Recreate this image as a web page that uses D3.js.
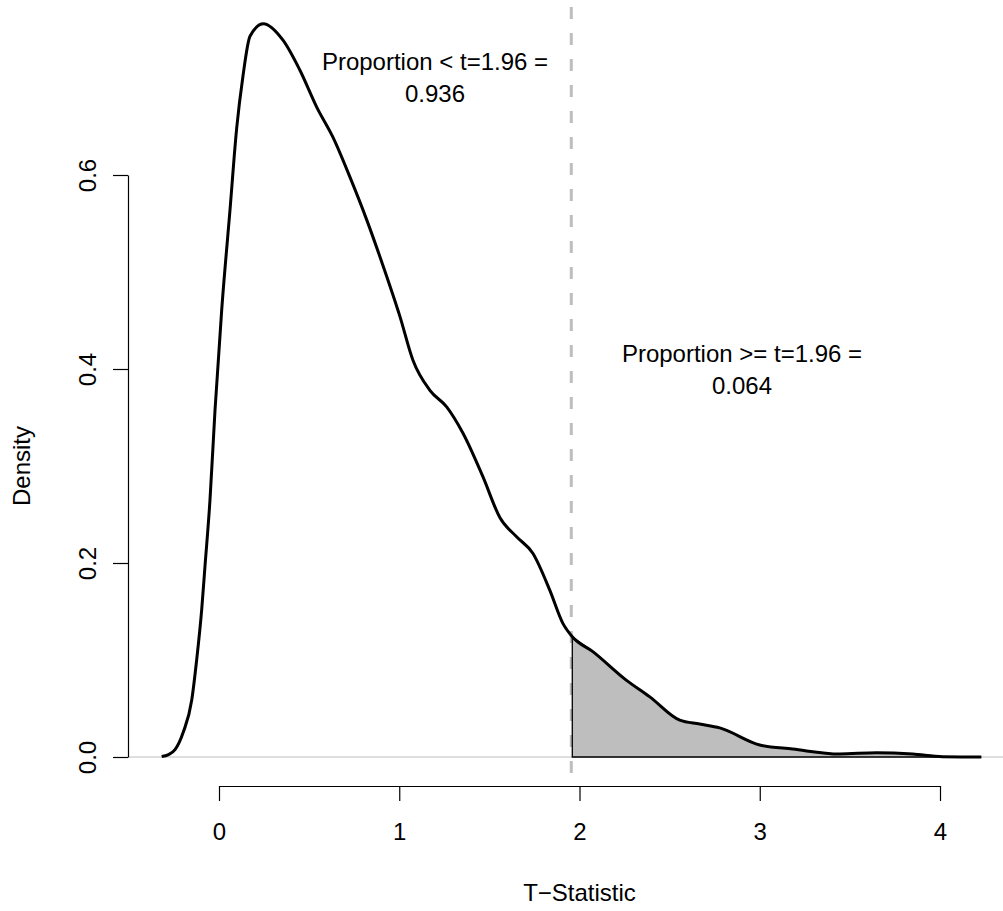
<!DOCTYPE html>
<html>
<head>
<meta charset="utf-8">
<script src="https://cdn.jsdelivr.net/npm/d3@7"></script>
<style>
  html, body { margin: 0; padding: 0; background: #ffffff; }
  svg { display: block; }
  text { font-family: "Liberation Sans", Arial, Helvetica, sans-serif; fill: #000; }
</style>
</head>
<body>
<svg id="chart" width="1003" height="911"></svg>
<script>
// ---- data ----
const tValues = [-0.318, -0.28, -0.244, -0.198, -0.151, -0.124, -0.096, -0.078, -0.050, -0.022, 0.015,
  0.061, 0.098, 0.133, 0.172, 0.246, 0.355, 0.449, 0.542, 0.632, 0.726, 0.819, 0.909, 1.004,
  1.076, 1.170, 1.263, 1.353, 1.464, 1.558, 1.651, 1.741, 1.835, 1.907, 1.96, 2.074, 2.261,
  2.390, 2.556, 2.667, 2.778, 3.000, 3.183, 3.443, 3.647, 3.848, 4.014, 4.229];
const densityValues = [0.0005, 0.0025, 0.0075, 0.0257, 0.059, 0.100, 0.152, 0.196, 0.265, 0.358, 0.461,
  0.564, 0.648, 0.702, 0.743, 0.756, 0.739, 0.708, 0.670, 0.639, 0.598, 0.554, 0.507, 0.454,
  0.409, 0.378, 0.361, 0.334, 0.289, 0.247, 0.227, 0.210, 0.172, 0.138, 0.124, 0.1086, 0.079,
  0.062, 0.038, 0.034, 0.030, 0.0124, 0.0082, 0.0031, 0.0044, 0.0031, 0.0003, 0.0];
const xTicks = [0, 1, 2, 3, 4];
const yTicks = [0.0, 0.2, 0.4, 0.6];
const yTickLabels = ["0.0", "0.2", "0.4", "0.6"];
const threshold = 1.96;
const labelLow = ["Proportion < t=1.96 =", "0.936"];
const labelHigh = ["Proportion >= t=1.96 =", "0.064"];
const xTitle = "T\u2212Statistic";
const yTitle = "Density";

// ---- scales ----
const x = d3.scaleLinear().domain([0, 4]).range([219, 940]);
const y = d3.scaleLinear().domain([0, 0.6]).range([757, 175]);
const plotLeft = 128, plotRight = 1003, plotBottom = 786;
const FS = 24;

const svg = d3.select("#chart");
const pts = tValues.map((t, i) => ({ t: t, d: densityValues[i] }));

// zero reference line
svg.append("line")
  .attr("x1", plotLeft).attr("x2", plotRight)
  .attr("y1", y(0)).attr("y2", y(0))
  .attr("stroke", "#bebebe").attr("stroke-width", 1);

// dashed threshold line
svg.append("line")
  .attr("x1", x(threshold) - 1).attr("x2", x(threshold) - 1)
  .attr("y1", 7).attr("y2", plotBottom)
  .attr("stroke", "#bebebe").attr("stroke-width", 3)
  .attr("stroke-dasharray", "12,14");

// shaded tail area
const tail = pts.filter(p => p.t >= threshold);
const area = d3.area().x(p => x(p.t)).y0(y(0)).y1(p => y(p.d)).curve(d3.curveMonotoneX);
svg.append("path")
  .datum(tail)
  .attr("d", area)
  .attr("fill", "#bebebe")
  .attr("stroke", "#000")
  .attr("stroke-width", 1.3);

// density curve
const line = d3.line().x(p => x(p.t)).y(p => y(p.d)).curve(d3.curveMonotoneX);
svg.append("path")
  .datum(pts)
  .attr("d", line)
  .attr("fill", "none")
  .attr("stroke", "#000")
  .attr("stroke-width", 3)
  .attr("stroke-linejoin", "round");

// x axis
const xAxis = svg.append("g")
  .attr("transform", `translate(0,${plotBottom})`)
  .call(d3.axisBottom(x).tickValues(xTicks).tickFormat(d3.format("d"))
    .tickSizeInner(15).tickSizeOuter(0).tickPadding(22));
xAxis.selectAll("path, line").attr("stroke", "#000").attr("stroke-width", 1.2);
xAxis.selectAll("text").attr("font-size", FS).style("font-family", "'Liberation Sans', Arial, sans-serif").attr("fill", "#000");

// y axis
const yAxis = svg.append("g")
  .attr("transform", `translate(${plotLeft},0)`)
  .call(d3.axisLeft(y).tickValues(yTicks).tickFormat((d, i) => yTickLabels[i])
    .tickSizeInner(15).tickSizeOuter(0));
yAxis.selectAll("path, line").attr("stroke", "#000").attr("stroke-width", 1.2);
yAxis.selectAll(".tick text")
  .attr("font-size", FS)
  .style("font-family", "'Liberation Sans', Arial, sans-serif")
  .attr("fill", "#000")
  .attr("x", null)
  .attr("text-anchor", "middle")
  .attr("transform", "translate(-40,0) rotate(-90)")
  .attr("y", 0)
  .attr("dy", "0.35em");

// axis titles
svg.append("text")
  .attr("x", x(2)).attr("y", 901)
  .attr("text-anchor", "middle").attr("font-size", FS)
  .text(xTitle);
svg.append("text")
  .attr("transform", `translate(30,${(y(0) + y(0.6)) / 2}) rotate(-90)`)
  .attr("text-anchor", "middle").attr("font-size", FS)
  .text(yTitle);

// annotations
function annotate(lines, cx, cy) {
  const g = svg.append("text").attr("text-anchor", "middle").attr("font-size", FS);
  lines.forEach((s, i) => {
    g.append("tspan").attr("x", cx).attr("y", cy + i * 32).text(s);
  });
}
annotate(labelLow, 435, 70);
annotate(labelHigh, 742, 362);
</script>
</body>
</html>
